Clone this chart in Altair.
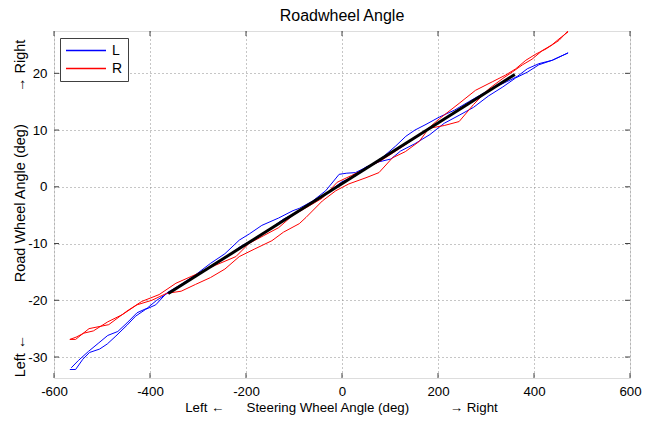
import altair as alt
import pandas as pd

# ---- data ----
blue_a_x = [-567, -555, -540, -526, -505, -489, -471, -448, -430, -409, -388, -365, -335, -305, -274, -244, -214, -193, -167, -132, -102, -89, -61, -34, -6, 10, 28, 63, 86, 112, 133, 152, 175, 203, 234, 264, 295, 325, 350, 366, 386, 410, 438, 471]
blue_a_y = [-32.2, -32.2, -30.4, -29.2, -28.6, -27.7, -26.3, -24.4, -22.8, -21.6, -20.8, -18.7, -17.2, -15.5, -13.5, -11.8, -9.4, -8.3, -6.8, -5.5, -4.2, -3.8, -2.5, -0.7, 2.2, 2.4, 2.5, 4.0, 5.3, 7.2, 8.9, 10.0, 11.0, 12.3, 13.5, 15.0, 16.5, 17.8, 18.8, 19.5, 20.8, 21.7, 22.3, 23.6]

blue_b_x = [471, 438, 410, 386, 362, 335, 305, 274, 244, 213, 183, 152, 122, 102, 77, 50, 30, 0, -30, -61, -91, -122, -152, -183, -213, -244, -274, -305, -335, -366, -386, -406, -427, -448, -467, -488, -508, -528, -549, -564]
blue_b_y = [23.6, 22.3, 21.5, 20.2, 19.2, 17.6, 16.0, 14.0, 12.6, 11.2, 9.2, 7.6, 6.3, 4.9, 4.4, 3.5, 2.0, 0.9, -1.0, -2.6, -4.3, -5.7, -7.5, -9.2, -10.6, -12.5, -14.0, -15.8, -17.3, -18.9, -20.0, -21.4, -22.2, -24.0, -25.5, -26.2, -27.6, -29.0, -30.6, -31.9]

red_a_x = [-567, -555, -527, -486, -448, -417, -381, -346, -298, -263, -221, -194, -163, -132, -102, -71, -41, -10, 20, 51, 81, 112, 142, 173, 203, 244, 278, 313, 341, 362, 383, 404, 425, 452, 471]
red_a_y = [-26.9, -26.9, -25.0, -24.3, -21.9, -20.2, -19.0, -17.0, -15.2, -13.8, -12.3, -10.0, -8.6, -7.2, -5.0, -3.5, -2.0, 0.8, 2.0, 3.3, 4.6, 6.3, 8.0, 9.8, 12.0, 14.7, 17.0, 18.5, 19.7, 20.8, 22.3, 23.4, 24.3, 25.8, 27.5]

red_b_x = [471, 457, 437, 417, 396, 376, 356, 335, 305, 274, 244, 213, 181, 161, 132, 105, 77, 50, 14, -13, -41, -75, -89, -122, -146, -183, -214, -244, -274, -305, -335, -366, -396, -427, -457, -488, -518, -538, -554, -567]
red_b_y = [27.3, 26.4, 25.0, 24.0, 22.5, 21.5, 20.3, 19.1, 17.2, 14.5, 11.5, 10.8, 10.3, 8.0, 6.2, 5.1, 2.5, 1.6, 0.5, -0.7, -2.5, -5.4, -6.5, -8.0, -9.5, -11.0, -12.3, -14.5, -16.0, -17.2, -18.4, -18.8, -20.0, -20.8, -22.5, -23.8, -25.4, -25.8, -26.5, -26.9]

black_x = [-362, 360]
black_y = [-18.8, 19.8]

x_ticks = [-600, -400, -200, 0, 200, 400, 600]
y_ticks = [-30, -20, -10, 0, 10, 20]
x_domain = [-600, 600]
y_domain = [-33.7, 27.46]

# ---- build table ----
rows = []
for side, tr, xs_, ys_ in [("L", "a", blue_a_x, blue_a_y), ("L", "b", blue_b_x, blue_b_y),
                           ("R", "a", red_a_x, red_a_y), ("R", "b", red_b_x, red_b_y)]:
    for i, (xv, yv) in enumerate(zip(xs_, ys_)):
        rows.append({"x": xv, "y": yv, "side": side, "trace": side + tr, "i": i})
df = pd.DataFrame(rows)
black = pd.DataFrame({"x": black_x, "y": black_y, "i": range(len(black_x))})
xt = pd.DataFrame({"t": x_ticks})
yt = pd.DataFrame({"t": y_ticks})

FONT = "Liberation Sans"
W, H = 576, 347
FS = 13.3

xs = alt.Scale(domain=x_domain, nice=False, zero=False)
ys = alt.Scale(domain=y_domain, nice=False, zero=False)

nb = "\u00a0"
x_title = "Left ←" + nb * 6 + "Steering Wheel Angle (deg)" + nb * 11 + "→ Right"
y_title = "Left ←" + nb * 13 + "Road Wheel Angle (deg)" + nb * 8 + "→ Right"

common = dict(grid=True, gridDash=[1, 3], gridColor="#8c8c8c", ticks=False, domain=False,
              labelFontSize=FS, titleFontWeight="normal",
              labelColor="black", titleColor="black", labelFont=FONT, titleFont=FONT,
              labelFlush=False, labelOverlap=False, labelExpr="datum.value + ''")

xaxis = alt.Axis(values=x_ticks, title=x_title, labelPadding=6, titleFontSize=FS,
                 titleX=287, titleY=29, titleBaseline="middle", titleAnchor="middle", **common)
yaxis = alt.Axis(values=y_ticks, title=y_title, labelPadding=7, titleFontSize=14.5,
                 titleX=-34, titleY=177, titleBaseline="middle", titleAngle=270, **common)

lines = alt.Chart(df).mark_line(strokeWidth=1, clip=True).encode(
    x=alt.X("x:Q", scale=xs, axis=xaxis),
    y=alt.Y("y:Q", scale=ys, axis=yaxis),
    color=alt.Color("side:N", scale=alt.Scale(domain=["L", "R"], range=["#0000ff", "#ff0000"]),
                    legend=alt.Legend(orient="none", legendX=6, legendY=7, title=None,
                                      strokeColor="#404040", fillColor="white", padding=5,
                                      symbolSize=1600, clipHeight=15,
                                      labelFontSize=14, labelFont=FONT, labelColor="black",
                                      rowPadding=3, labelOffset=5, cornerRadius=0)),
    detail="trace:N",
    order="i:Q",
)

blk = alt.Chart(black).mark_line(color="black", strokeWidth=3).encode(
    x=alt.X("x:Q", scale=xs), y=alt.Y("y:Q", scale=ys), order="i:Q")

tick_color = "#404040"
xt_bot = alt.Chart(xt).mark_rule(color=tick_color).encode(x=alt.X("t:Q", scale=xs), y=alt.value(H), y2=alt.value(H - 5))
xt_top = alt.Chart(xt).mark_rule(color=tick_color).encode(x=alt.X("t:Q", scale=xs), y=alt.value(0), y2=alt.value(5))
yt_l = alt.Chart(yt).mark_rule(color=tick_color).encode(y=alt.Y("t:Q", scale=ys), x=alt.value(0), x2=alt.value(5))
yt_r = alt.Chart(yt).mark_rule(color=tick_color).encode(y=alt.Y("t:Q", scale=ys), x=alt.value(W), x2=alt.value(W - 5))

chart = alt.layer(lines, blk, xt_bot, xt_top, yt_l, yt_r).properties(
    width=W, height=H,
    title=alt.TitleParams("Roadwheel Angle", fontSize=16, font=FONT, fontWeight="normal",
                          color="black", offset=7),
    autosize=alt.AutoSizeParams(type="none"),
    padding={"left": 54, "top": 31, "right": 25, "bottom": 43},
).configure_view(stroke="#404040", strokeWidth=1).configure(background="white")

chart.save("out.html", embed_options={"renderer": "svg", "actions": False})
